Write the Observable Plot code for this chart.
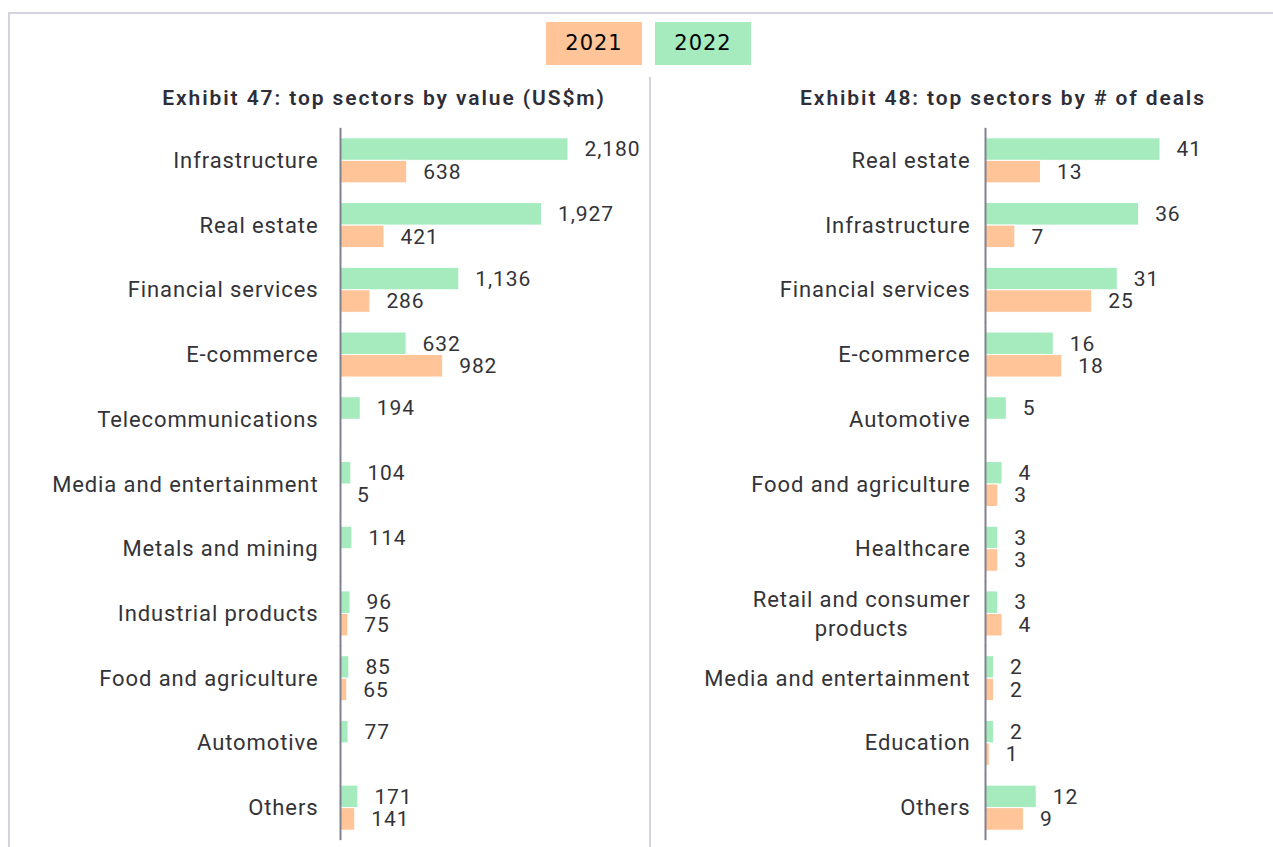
<!DOCTYPE html>
<html><head><meta charset="utf-8">
<script src="https://cdn.jsdelivr.net/npm/d3@7"></script>
<script src="https://cdn.jsdelivr.net/npm/@observablehq/plot@0.6"></script>
<style>
body{margin:0;background:#fff;font-family:Roboto,sans-serif;}
#root{position:relative;width:1273px;height:847px;overflow:hidden;background:#fff;}
.frame{position:absolute;left:8px;top:12px;width:1300px;height:900px;border-left:2px solid #d4d4dc;border-top:2px solid #d4d4dc;}
.divider{position:absolute;left:649px;top:77px;width:2px;height:800px;background:#d4d4dc;}
.leg{position:absolute;top:22px;width:96px;height:43px;line-height:43px;text-align:center;font-family:"DejaVu Sans",sans-serif;font-size:21px;letter-spacing:1px;color:#000;}
.title{position:absolute;top:86px;font-size:21px;font-weight:600;letter-spacing:1.9px;color:#2e2e38;transform:translateX(-50%);white-space:nowrap;font-family:Roboto,sans-serif;}
.panel{position:absolute;top:118px;}
#root svg text{letter-spacing:0.9px;}
</style></head>
<body><div id="root">
<div class="frame"></div>
<div class="divider"></div>
<div class="leg" id="leg21" style="left:546px"></div>
<div class="leg" id="leg22" style="left:655px"></div>
<div class="title" id="t1" style="left:384px"></div>
<div class="title" id="t2" style="left:1003px"></div>
<div class="panel" id="p1" style="left:0px"></div>
<div class="panel" id="p2" style="left:650px"></div>
</div>
<script>
// ---- data ----
const years = ["2021", "2022"];
const titleValue = "Exhibit 47: top sectors by value (US$m)";
const titleDeals = "Exhibit 48: top sectors by # of deals";

const valueSectors = ["Infrastructure", "Real estate", "Financial services", "E-commerce", "Telecommunications", "Media and entertainment", "Metals and mining", "Industrial products", "Food and agriculture", "Automotive", "Others"];
const value2022 = [2180, 1927, 1136, 632, 194, 104, 114, 96, 85, 77, 171];
const value2021 = [638, 421, 286, 982, null, 5, null, 75, 65, null, 141];

const dealSectors = ["Real estate", "Infrastructure", "Financial services", "E-commerce", "Automotive", "Food and agriculture", "Healthcare", "Retail and consumer products", "Media and entertainment", "Education", "Others"];
const deals2022 = [41, 36, 31, 16, 5, 4, 3, 3, 2, 2, 12];
const deals2021 = [13, 7, 25, 18, null, 3, 3, 4, 2, 1, 9];

// ---- styles ----
const peach = "#FFC497";
const green = "#A5EBBD";
const ink = "#333338";
const valueSize = 21;
const catSize = 22;
const maxChars = 25;

document.getElementById("leg21").textContent = years[0];
document.getElementById("leg21").style.background = peach;
document.getElementById("leg22").textContent = years[1];
document.getElementById("leg22").style.background = green;
document.getElementById("t1").textContent = titleValue;
document.getElementById("t2").textContent = titleDeals;

// wrap long labels onto two lines
function wrapLabel(d) {
  if (d.length <= maxChars) return d;
  const cut = d.lastIndexOf(" ", maxChars);
  return d.slice(0, cut) + "\n" + d.slice(cut + 1);
}
const ctx = document.createElement("canvas").getContext("2d");
ctx.font = `${catSize}px Roboto`;
try { ctx.letterSpacing = "0.9px"; } catch (e) {}
function widest(label) {
  return d3.max(label.split("\n"), s => ctx.measureText(s).width);
}

function panel(cats, v22, v21, fmt, width, marginLeft, marginRight, pad) {
  const rows = [];
  cats.forEach((c, i) => {
    if (v22[i] != null) rows.push({cat: c, year: "2022", value: v22[i]});
    if (v21[i] != null) rows.push({cat: c, year: "2021", value: v21[i]});
  });
  const plain = cats.filter(c => c.length <= maxChars);
  const wrapped = cats.filter(c => c.length > maxChars);
  const marks = [
    Plot.barX(rows, {fy: "cat", y: "year", x: "value", fill: "year", stroke: "#ffffff", strokeWidth: 1}),
    Plot.ruleX([0], {stroke: "#80808e", strokeWidth: 2, insetTop: -10, insetBottom: -10}),
    Plot.text(rows, {fy: "cat", y: "year", x: "value", text: d => fmt(d.value), dx: 16, textAnchor: "start", fill: ink, fontSize: valueSize}),
    Plot.text(plain, {fy: d => d, frameAnchor: "left", text: d => d, textAnchor: "end", dx: -pad, fill: ink, fontSize: catSize})
  ];
  wrapped.forEach(c => {
    const lbl = wrapLabel(c);
    marks.push(Plot.text([c], {fy: d => d, frameAnchor: "left", text: () => lbl, textAnchor: "middle", lineHeight: 1.32, dy: -2, dx: -pad - widest(lbl) / 2, fill: ink, fontSize: catSize}));
  });
  return Plot.plot({
    width, height: 732, marginLeft, marginRight, marginTop: 10, marginBottom: 10,
    style: {fontFamily: "Roboto, sans-serif", fontSize: valueSize + "px", color: ink, background: "transparent", overflow: "visible"},
    x: {domain: [0, d3.max(rows, d => d.value)], axis: null},
    y: {domain: ["2022", "2021"], axis: null, padding: 0, round: false},
    fy: {domain: cats, paddingInner: 0.304, paddingOuter: 0.152, axis: null, round: false},
    color: {domain: years, range: [peach, green]},
    marks
  });
}

document.getElementById("p1").appendChild(panel(valueSectors, value2022, value2021, d3.format(","), 650, 340, 82, 22));
document.getElementById("p2").appendChild(panel(dealSectors, deals2022, deals2021, d3.format("d"), 623, 335, 113, 15));
</script>
</body></html>
